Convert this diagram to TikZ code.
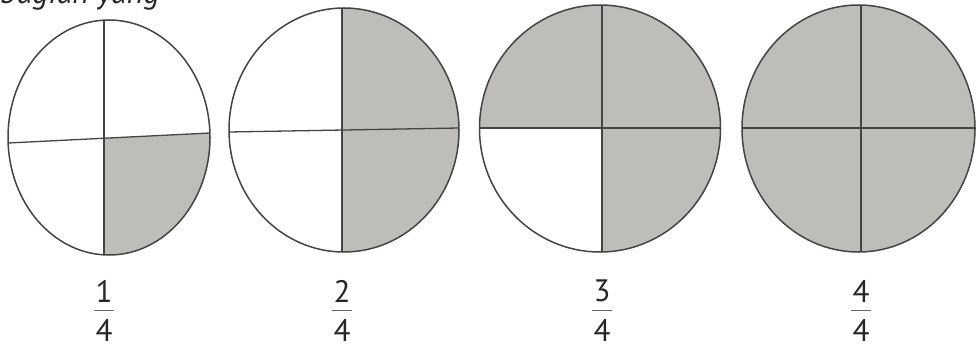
\documentclass[tikz,border=0pt]{standalone}
\usepackage{fontspec}
\setmainfont{PT Sans}
\definecolor{greyfill}{RGB}{191,189,185}
\definecolor{ink}{RGB}{68,68,68}
\begin{document}
\begin{tikzpicture}[x=1pt,y=-1pt,
  outl/.style={draw=ink,line width=1.5pt},
  divl/.style={draw=ink,line width=1.3pt},
  digit/.style={font=\fontsize{31}{31}\selectfont,text=black!85,inner sep=0pt},
  fbar/.style={draw=black!60,line width=1pt}]
\useasboundingbox (0,0) rectangle (977,348);
\fill[white] (0,0) rectangle (977,348);

% cut-off heading at the top edge (as in the reference)
\begin{scope}
\clip (0,0) rectangle (977,348);
\node[anchor=base west,inner sep=0pt,font=\itshape\fontsize{32}{32}\selectfont,text=black!85] (head) at (0,3) {bagian yang};
\end{scope}

% ---- circle 1 : 1/4 ----
\begin{scope}
\clip (109,137.5) ellipse [x radius=101, y radius=117.5];
\fill[greyfill] (104,138.2) -- (215,132.7) -- (215,260) -- (104,260) -- cycle;
\end{scope}
\draw[outl] (109,137.5) ellipse [x radius=101, y radius=117.5];
\draw[divl] (104,20.1) -- (104,254.9);
\draw[divl] (8.1,143) -- (209.9,133);

% ---- circle 2 : 2/4 ----
\begin{scope}
\clip (344,130) ellipse [x radius=115, y radius=122];
\fill[greyfill] (342,0) rectangle (470,260);
\end{scope}
\draw[outl] (344,130) ellipse [x radius=115, y radius=122];
\draw[divl] (342,8) -- (342,252);
\draw[divl] (229,132) -- (459,128);

% ---- circle 3 : 3/4 ----
\begin{scope}
\clip (600,128.5) ellipse [x radius=120.5, y radius=123.5];
\fill[greyfill] (470,0) rectangle (730,260);
\fill[white] (470,128) rectangle (602,260);
\end{scope}
\draw[outl] (600,128.5) ellipse [x radius=120.5, y radius=123.5];
\draw[divl] (602,5) -- (602,252);
\draw[divl] (479.5,128) -- (720.5,128);

% ---- circle 4 : 4/4 ----
\fill[greyfill] (858.5,128.5) ellipse [x radius=116.5, y radius=123.5];
\draw[outl] (858.5,128.5) ellipse [x radius=116.5, y radius=123.5];
\draw[divl] (861,5) -- (861,252);
\draw[divl] (742,128) -- (975,128);

% ---- fractions ----
\node[digit] (n1) at (104,291) {1};
\node[digit] (d1) at (104,330) {4};
\coordinate (b1l) at (94,310); \coordinate (b1r) at (114,310);
\draw[fbar] (b1l) -- (b1r);

\node[digit] (n2) at (342,291) {2};
\node[digit] (d2) at (342,330) {4};
\coordinate (b2l) at (332,310); \coordinate (b2r) at (352,310);
\draw[fbar] (b2l) -- (b2r);

\node[digit] (n3) at (602,291) {3};
\node[digit] (d3) at (602,330) {4};
\coordinate (b3l) at (592,310); \coordinate (b3r) at (612,310);
\draw[fbar] (b3l) -- (b3r);

\node[digit] (n4) at (861,291) {4};
\node[digit] (d4) at (861,330) {4};
\coordinate (b4l) at (851,310); \coordinate (b4r) at (871,310);
\draw[fbar] (b4l) -- (b4r);
\end{tikzpicture}
\end{document}
